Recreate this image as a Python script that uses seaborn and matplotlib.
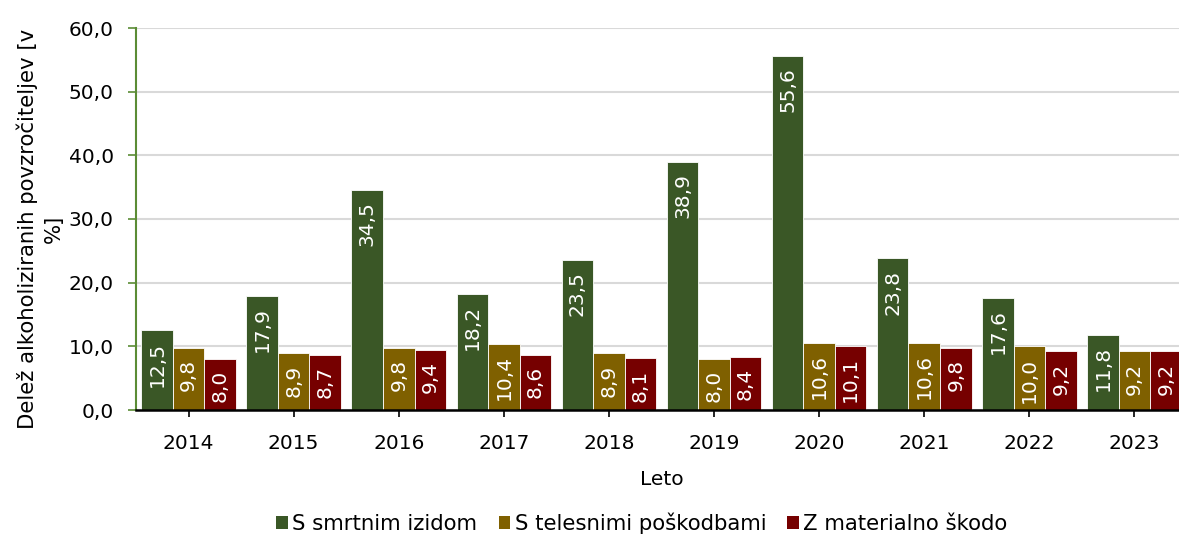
import matplotlib
matplotlib.use("Agg")
import matplotlib.pyplot as plt
from matplotlib.patches import Patch
import seaborn as sns
import pandas as pd

years = ["2014", "2015", "2016", "2017", "2018", "2019", "2020", "2021", "2022", "2023"]
series_names = ["S smrtnim izidom", "S telesnimi poškodbami", "Z materialno škodo"]
smrtni = [12.5, 17.9, 34.5, 18.2, 23.5, 38.9, 55.6, 23.8, 17.6, 11.8]
telesne = [9.8, 8.9, 9.8, 10.4, 8.9, 8.0, 10.6, 10.6, 10.0, 9.2]
materialna = [8.0, 8.7, 9.4, 8.6, 8.1, 8.4, 10.1, 9.8, 9.2, 9.2]
colors = ["#3A5726", "#7F6000", "#760000"]

rows = []
for name, vals in zip(series_names, [smrtni, telesne, materialna]):
    for y, v in zip(years, vals):
        rows.append({"Leto": y, "Serija": name, "Vrednost": v})
df = pd.DataFrame(rows)

sns.set_theme(style="white")
plt.rcParams["font.family"] = ["DejaVu Sans"]
plt.rcParams["text.color"] = "black"
plt.rcParams["axes.labelcolor"] = "black"

FS = 14.5

fig = plt.figure(figsize=(11.79, 5.37), dpi=100)
ax = fig.add_axes([136/1179, 1 - 410/537, 1051/1179, 382/537])

sns.barplot(data=df, x="Leto", y="Vrednost", hue="Serija", order=years,
            hue_order=series_names, palette=colors, width=0.9, saturation=1,
            edgecolor="white", linewidth=0.6, legend=False, ax=ax, zorder=3)

ax.set_ylim(0, 60)
ax.set_xlim(-0.5, len(years) - 0.5)
ax.set_yticks(range(0, 61, 10))
ax.set_yticklabels([f"{v:.1f}".replace(".", ",") for v in range(0, 61, 10)])
ax.tick_params(axis="x", labelsize=FS, labelcolor="black", length=5, width=1.2,
               color="black", direction="out", bottom=True, pad=12)
ax.tick_params(axis="y", labelsize=FS, labelcolor="black", length=6, width=1.2,
               color="#5B8C35", direction="out", left=True, pad=10)
ax.yaxis.grid(True, color="#D9D9D9", linewidth=1.5, zorder=0)
ax.set_axisbelow(True)

for s in ["top", "right"]:
    ax.spines[s].set_visible(False)
ax.spines["left"].set_color("#5B8C35")
ax.spines["left"].set_linewidth(1.5)
ax.spines["bottom"].set_color("black")
ax.spines["bottom"].set_linewidth(1.8)
ax.spines["bottom"].set_zorder(6)

for cont in ax.containers:
    for bar in cont:
        h = bar.get_height()
        x = bar.get_x() + bar.get_width() / 2
        ax.annotate(f"{h:.1f}".replace(".", ","), (x, h), xytext=(0, -8),
                    textcoords="offset points", rotation=90, ha="center", va="top",
                    color="white", fontsize=FS, zorder=5)

ax.set_ylabel("Delež alkoholiziranih povzročiteljev [v\n%]", fontsize=15.3,
              multialignment="center", color="black", linespacing=1.35)
ax.yaxis.set_label_coords(-0.069, 0.474)
ax.set_xlabel("Leto", fontsize=FS, color="black")
ax.xaxis.set_label_coords(0.5, -0.156)
ax.xaxis.label.set_va("top")

handles = [Patch(facecolor=c, edgecolor="none") for c in colors]
fig.legend(handles, series_names, loc="center", bbox_to_anchor=(642/1179, 1 - 523/537),
           ncol=3, frameon=False, fontsize=15.3, handlelength=0.55, handleheight=0.55,
           handletextpad=0.2, columnspacing=1.0)

fig.savefig("out.png", dpi=100)
